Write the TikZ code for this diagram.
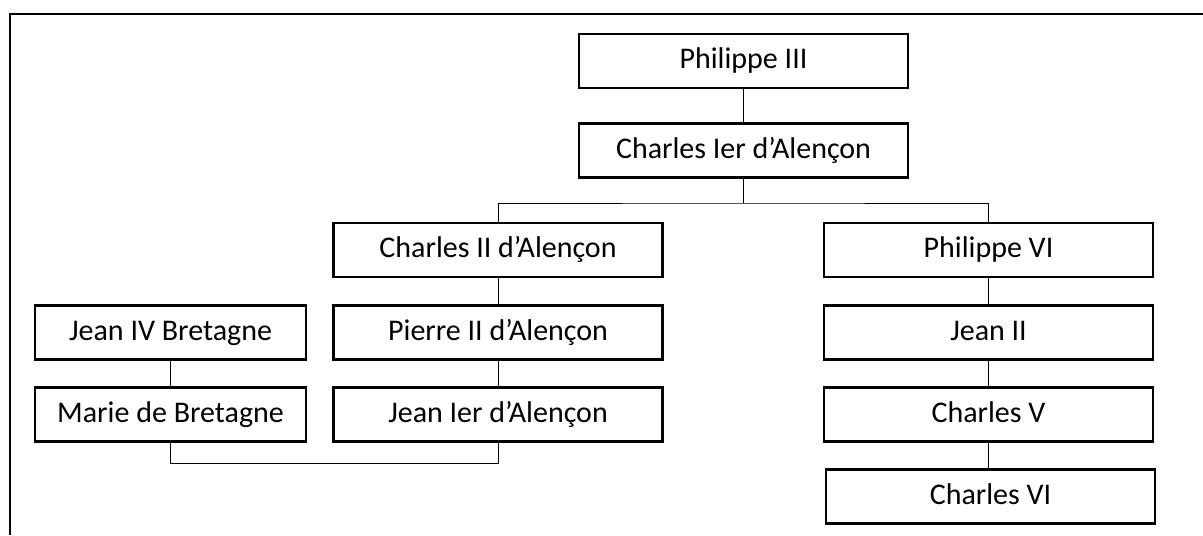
\documentclass[tikz,border=0pt]{standalone}
\usepackage{fontspec}
\setmainfont{Carlito}
\usepackage{tikz}
\usetikzlibrary{positioning}

\begin{document}
\begin{tikzpicture}[
		x=0.5pt, y=-0.5pt,
		boite/.style={rectangle, draw, line width=1.1pt, inner sep=0pt,
			minimum width=164.5pt, minimum height=27pt,
			text height=1.05em, text depth=0.3em,
			font=\fontsize{15}{17}\selectfont},
		petite/.style={boite, minimum width=135.5pt},
		lien/.style={draw, line width=0.5pt},
		cadre/.style={line width=1.3pt}
		]
		\useasboundingbox (0,0) rectangle (1203,535);
		
		% Le cadre
		\draw[cadre] (10,535) -- (10,14) -- (1203,14);
		
		% Les personnes
		\node[boite] (P3) at (743.5, 61) {Philippe III};
		\node[boite] (C1) at (743.5, 150.5) {Charles Ier d’Alençon};
		\node[boite] (C2) at (498, 250) {Charles II d’Alençon};
		\node[boite] (P6) at (988.5, 250) {Philippe VI};
		\node[petite] (J4) at (170.5, 332.5) {Jean IV Bretagne};
		\node[boite] (P2) at (498, 332.5) {Pierre II d’Alençon};
		\node[boite] (J2) at (988.5, 332.5) {Jean II};
		\node[petite] (M) at (170.5, 414.5) {Marie de Bretagne};
		\node[boite] (J1) at (498, 414.5) {Jean Ier d’Alençon};
		\node[boite] (C5) at (988.5, 414.5) {Charles V};
		\node[boite] (C6) at (990.5, 496.5) {Charles VI};
		
		% Les liens
		\coordinate (F) at (743.5, 203);
		\coordinate (U) at (498, 463);
		\draw[lien] (P3) -- (C1);
		\draw[lien] (C1) -- (F);
		\draw[lien] (C2) |- (F) -| (P6);
		\draw[lien] (C2) -- (P2);
		\draw[lien] (P2) -- (J1);
		\draw[lien] (J4) -- (M);
		\draw[lien] (M) |- (U) -- (J1);
		\draw[lien] (P6) -- (J2);
		\draw[lien] (J2) -- (C5);
		\draw[lien] (C5) -- (C5 |- C6.north);
	\end{tikzpicture}
\end{document}
